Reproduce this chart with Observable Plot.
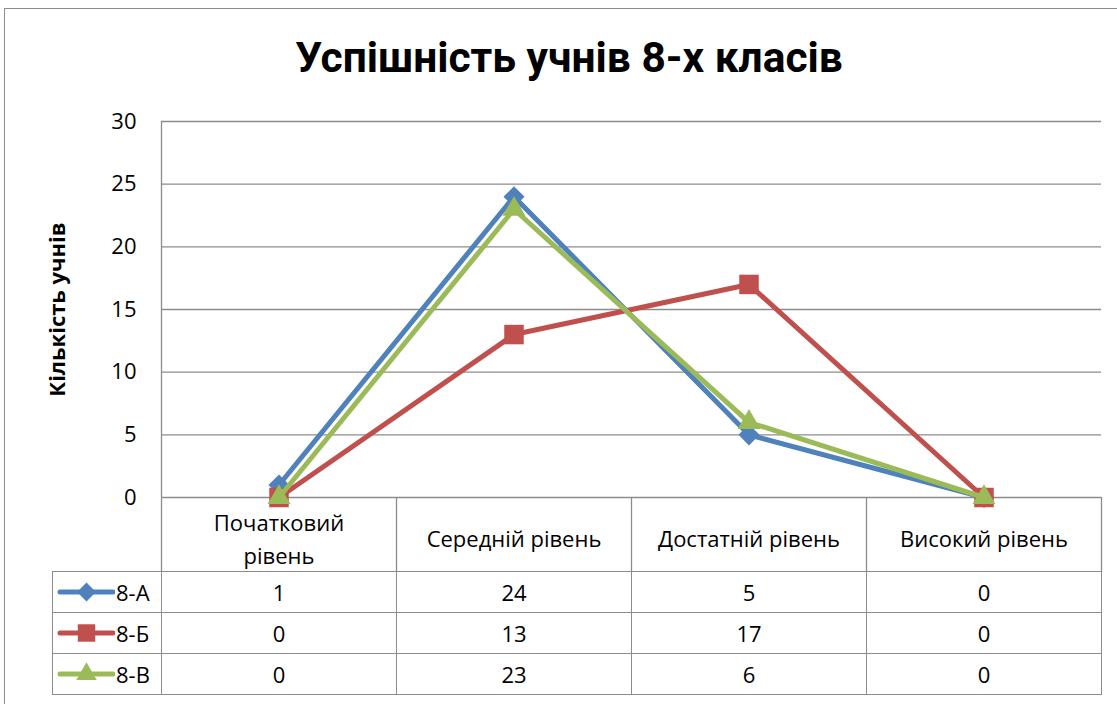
<!DOCTYPE html>
<html>
<head>
<meta charset="utf-8">
<script src="https://cdn.jsdelivr.net/npm/d3@7"></script>
<script src="https://cdn.jsdelivr.net/npm/@observablehq/plot@0.6"></script>
<style>
  html, body { margin: 0; padding: 0; background: #fff; }
  #wrap { position: relative; width: 1117px; height: 704px; overflow: hidden; font-family: "Open Sans", sans-serif; color: #000; }
  #border { position: absolute; left: 4px; top: 8px; width: 1300px; height: 900px; border: 1.5px solid #8c8c8c; box-sizing: border-box; }
  #title { position: absolute; left: 0; top: 30px; width: 1138px; text-align: center; font-family: "Roboto", sans-serif; font-weight: bold; font-size: 42.5px; line-height: 56px; }
  #chart { position: absolute; left: 0; top: 0; }
  #table { position: absolute; left: 52px; top: 571px; border-collapse: collapse; font-size: 22px; }
  #table td { border: 1.5px solid #8c8c8c; height: 40px; padding: 0; text-align: center; box-sizing: border-box; line-height: 26px; }
  #table td.leg { width: 109px; text-align: left; }
  #table td.val { width: 235px; }
  .legcell { display: flex; align-items: center; height: 40px; }
  .legcell svg { display: block; margin-left: 4px; }
  .legcell span { margin-left: 1px; }
</style>
</head>
<body>
<div id="wrap">
  <div id="border"></div>
  <div id="title"></div>
  <div id="chart"></div>
  <table id="table"></table>
</div>
<script>
const chartTitle = "Успішність учнів 8-х класів";
const yTitle = "Кількість учнів";
const categories = ["Початковий рівень", "Середній рівень", "Достатній рівень", "Високий рівень"];
const tickLabels = ["Початковий\nрівень", "Середній рівень", "Достатній рівень", "Високий рівень"];
const seriesNames = ["8-А", "8-Б", "8-В"];
const valuesA = [1, 24, 5, 0];
const valuesB = [0, 13, 17, 0];
const valuesV = [0, 23, 6, 0];
const yTicks = [0, 5, 10, 15, 20, 25, 30];

const seriesValues = [valuesA, valuesB, valuesV];
const colors = ["#4F81BD", "#C0504D", "#9BBB59"];
const symbols = ["diamond2", "square", "triangle"];
const d3symbols = [d3.symbolDiamond2, d3.symbolSquare, d3.symbolTriangle];
const radii = [9.5, 11, 8.5];

const rows = seriesNames.flatMap((s, k) =>
  categories.map((c, i) => ({series: s, category: c, idx: i, value: seriesValues[k][i]})));

document.getElementById("title").textContent = chartTitle;

const grid = "#8c8c8c";
const marks = [
  Plot.gridY(yTicks, {stroke: grid, strokeOpacity: 1, strokeWidth: 1.3}),
  Plot.ruleX([0], {stroke: grid, strokeWidth: 1.3}),
  Plot.axisY(yTicks, {tickSize: 0, tickPadding: 25, fontSize: 22, label: null}),
  Plot.axisX(d3.range(categories.length + 1), {tickSize: 75, stroke: grid, strokeWidth: 1.3, strokeOpacity: 1, tickFormat: () => "", label: null}),
  Plot.axisX(categories.map((c, i) => i + 0.5), {
    tickSize: 0, tickPadding: 39, lineAnchor: "middle", lineHeight: 1.5, fontSize: 22,
    tickFormat: d => tickLabels[Math.floor(d)], label: null
  }),
  Plot.text([yTitle], {frameAnchor: "left", dx: -104, rotate: -90, fontWeight: "bold", fontSize: 22, textAnchor: "middle", lineAnchor: "middle", text: d => d})
];
seriesNames.forEach((s, k) => {
  const data = rows.filter(d => d.series === s);
  marks.push(Plot.line(data, {x: d => d.idx + 0.5, y: "value", stroke: "series", strokeWidth: 5, strokeLinejoin: "miter"}));
  marks.push(Plot.dot(data, {x: d => d.idx + 0.5, y: "value", fill: "series", symbol: "series", r: radii[k], stroke: "none"}));
});

const chart = Plot.plot({
  width: 1117,
  height: 572,
  marginTop: 121,
  marginBottom: 75,
  marginLeft: 161,
  marginRight: 16,
  x: {type: "linear", domain: [0, categories.length]},
  y: {domain: [0, 30]},
  color: {domain: seriesNames, range: colors},
  symbol: {domain: seriesNames, range: symbols},
  style: {background: "transparent", overflow: "visible", fontFamily: "'Open Sans', sans-serif", fontSize: "22px", color: "#000"},
  marks
});
document.getElementById("chart").appendChild(chart);

// data table
const table = d3.select("#table");
seriesNames.forEach((s, k) => {
  const tr = table.append("tr");
  const leg = tr.append("td").attr("class", "leg").append("div").attr("class", "legcell");
  const svg = leg.append("svg").attr("width", 58).attr("height", 24);
  svg.append("line").attr("x1", 3).attr("x2", 56).attr("y1", 12).attr("y2", 12)
    .attr("stroke", colors[k]).attr("stroke-width", 5).attr("stroke-linecap", "round");
  const size = Math.PI * radii[k] * radii[k] * 0.8;
  svg.append("path").attr("d", d3.symbol(d3symbols[k], size)()).attr("transform", "translate(29.5,12)").attr("fill", colors[k]);
  leg.append("span").text(s);
  seriesValues[k].forEach(v => tr.append("td").attr("class", "val").text(v));
});
</script>
</body>
</html>
